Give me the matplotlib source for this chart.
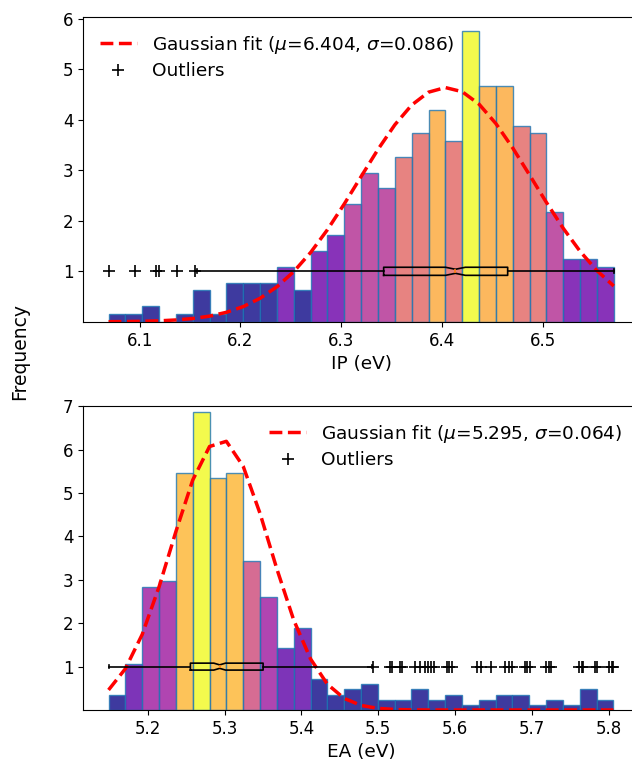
import numpy as np
import matplotlib
matplotlib.use("Agg")
import matplotlib.pyplot as plt

# ---------------- data ----------------
n_total = 385

ip_range = (6.0692, 6.5707)
ip_counts = [1, 1, 2, 0, 1, 4, 1, 5, 5, 5, 7, 4, 9, 11, 15,
             19, 17, 21, 24, 27, 23, 37, 30, 30, 25, 24, 14, 8, 8, 7]
ip_mu, ip_sigma = 6.404, 0.086
ip_box = dict(q1=6.3423, med=6.4135, q3=6.4654, whislo=6.1573, whishi=6.5707,
              cilo=6.4037, cihi=6.4234)
ip_outliers = [6.0696, 6.0957, 6.1166, 6.1193, 6.1372, 6.1554]

ea_range = (5.1490, 5.8060)
ea_counts = [3, 9, 24, 25, 46, 58, 45, 46, 29, 22, 12, 16, 6, 3, 4,
             5, 2, 2, 4, 2, 3, 1, 2, 3, 3, 1, 2, 1, 4, 2]
ea_mu, ea_sigma = 5.295, 0.064
ea_box = dict(q1=5.2555, med=5.2936, q3=5.3501, whislo=5.1502, whishi=5.4918,
              cilo=5.2860, cihi=5.3012)
ea_outliers = [5.4928, 5.5156, 5.5182, 5.5286, 5.5312, 5.5481, 5.5546, 5.5611,
               5.5650, 5.5689, 5.5728, 5.5891, 5.5923, 5.5962, 5.6287, 5.6339,
               5.6469, 5.6651, 5.6697, 5.6742, 5.6905, 5.6938, 5.6970, 5.7185,
               5.7224, 5.7250, 5.7614, 5.7646, 5.7666, 5.7822, 5.7841, 5.8004,
               5.8043, 5.8060]

ip_xticks = [6.1, 6.2, 6.3, 6.4, 6.5]
ea_xticks = [5.2, 5.3, 5.4, 5.5, 5.6, 5.7, 5.8]
ip_yticks = [1, 2, 3, 4, 5, 6]
ea_yticks = [1, 2, 3, 4, 5, 6, 7]

plt.rcParams['font.family'] = ['DejaVu Sans']
plt.rcParams['font.size'] = 12

fig = plt.figure(figsize=(6.32, 7.63), dpi=100)
W, H = 632.0, 763.0
ax1 = fig.add_axes([83.3 / W, 1 - 321.8 / H, (639 - 83.3) / W, (321.8 - 17.3) / H])
ax2 = fig.add_axes([83.3 / W, 1 - 710 / H, (638.7 - 83.3) / W, (710 - 406.3) / H])

cmap = plt.get_cmap('plasma')


def panel(ax, rng, counts, mu, sigma, box, outliers, xticks, yticks, ylim,
          xlabel, legloc):
    counts = np.asarray(counts, float)
    edges = np.linspace(rng[0], rng[1], len(counts) + 1)
    centers = 0.5 * (edges[:-1] + edges[1:])
    n, bins, patches = ax.hist(centers, bins=edges, weights=counts, density=True,
                               edgecolor='#1f77b4', linewidth=1.0, alpha=0.8)
    lev = np.floor(n)
    lev = lev / lev.max()
    for p, v in zip(patches, lev):
        p.set_facecolor(cmap(v))
    x = bins
    pdf = np.exp(-0.5 * ((x - mu) / sigma) ** 2) / (sigma * np.sqrt(2 * np.pi))
    ax.plot(x, pdf, 'r--', lw=2.5,
            label=r'Gaussian fit ($\mu$=%.3f, $\sigma$=%.3f)' % (mu, sigma))
    stats = dict(box)
    stats['fliers'] = []
    ax.bxp([stats], positions=[1], widths=0.16, vert=False, shownotches=True,
           showfliers=False, manage_ticks=False,
           boxprops=dict(color='black', lw=1.2),
           whiskerprops=dict(color='black', lw=1.2),
           capprops=dict(color='black', lw=1.2),
           medianprops=dict(color='C1', lw=1.2))
    ax.plot(outliers, np.ones(len(outliers)), 'k+', ms=8, mew=1.2,
            linestyle='none', label='Outliers')
    span = rng[1] - rng[0]
    ax.set_xlim(rng[0] - 0.05 * span, rng[1] + 0.05 * span)
    ax.set_ylim(0, ylim)
    ax.set_xticks(xticks)
    ax.set_yticks(yticks)
    ax.tick_params(labelsize=12)
    ax.set_xlabel(xlabel, fontsize=13.3)
    ax.spines['right'].set_visible(False)
    ax.legend(loc=legloc, frameon=False, fontsize=13.3, labelspacing=0.35)


panel(ax1, ip_range, ip_counts, ip_mu, ip_sigma, ip_box, ip_outliers,
      ip_xticks, ip_yticks, 6.03, 'IP (eV)', 'upper left')
panel(ax2, ea_range, ea_counts, ea_mu, ea_sigma, ea_box, ea_outliers,
      ea_xticks, ea_yticks, 7.0, 'EA (eV)', 'upper right')

fig.text(20 / W, 1 - 352 / H, 'Frequency', rotation=90, ha='center', va='center',
         fontsize=13.5)

fig.savefig('out.png', dpi=100)
